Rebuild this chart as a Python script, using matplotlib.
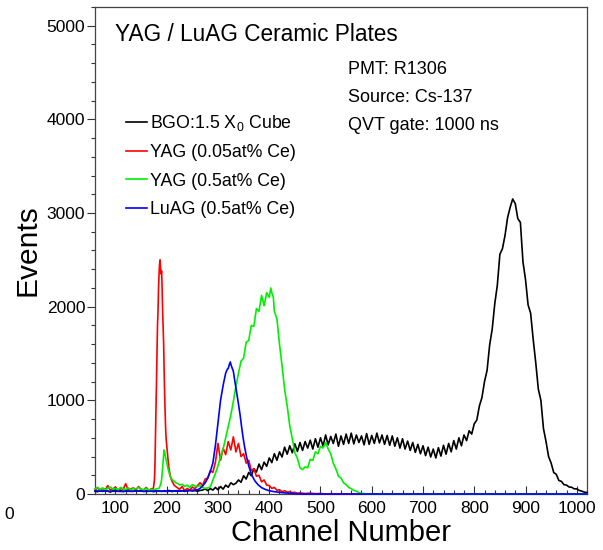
import matplotlib
matplotlib.use('Agg')
import matplotlib.pyplot as plt
from matplotlib.ticker import MultipleLocator
import numpy as np

plt.rcParams['font.family'] = ['Liberation Sans', 'DejaVu Sans']
plt.rcParams['mathtext.fontset'] = 'custom'
plt.rcParams['mathtext.rm'] = 'Liberation Sans'
plt.rcParams['mathtext.it'] = 'Liberation Sans:italic'

# BGO spectrum, 5-channel bins
bgo_ch = np.arange(60, 1025, 5)
bgo_counts = [
    30, 25, 35, 28, 40, 30, 22, 35, 45, 30,
    38, 25, 33, 42, 30, 28, 36, 30, 40, 27,
    33, 38, 30, 25, 35, 30, 28, 34, 30, 38,
    26, 32, 36, 30, 35, 28, 33, 38, 32, 36,
    30, 38, 42, 55, 36, 58, 42, 70, 45, 80,
    52, 95, 72, 120, 100, 115, 150, 125, 195, 160,
    230, 195, 270, 235, 320, 260, 340, 295, 385, 335,
    430, 360, 450, 395, 500, 425, 515, 440, 535, 455,
    550, 465, 560, 490, 575, 480, 590, 500, 600, 510,
    630, 525, 615, 540, 640, 510, 620, 530, 640, 540,
    650, 535, 630, 550, 620, 525, 645, 530, 625, 540,
    650, 545, 630, 530, 625, 520, 620, 510, 600, 490,
    590, 480, 565, 465, 550, 445, 530, 430, 515, 410,
    500, 395, 480, 385, 495, 405, 520, 425, 540, 450,
    570, 480, 600, 515, 630, 570, 675, 640, 750, 790,
    940, 1030, 1200, 1320, 1590, 1760, 2030, 2230, 2560, 2620,
    2760, 2950, 3060, 3150, 3100, 2940, 2900, 2480, 2290, 2020,
    1930, 1650, 1400, 1120, 1000, 700, 560, 400, 330, 230,
    210, 145, 135, 100, 95, 75, 72, 55, 55, 38,
    30, 20, 15,
]

# YAG 0.05at% Ce: (channel, counts)
yag005 = [
    (60, 40), (65, 70), (70, 35), (75, 60), (80, 45), (85, 90), (90, 40),
    (95, 55), (100, 75), (105, 35), (110, 60), (115, 50), (120, 110),
    (125, 40), (130, 55), (135, 65), (140, 40), (145, 80), (150, 50),
    (155, 45), (160, 70), (165, 40), (170, 55), (174, 60), (176, 150),
    (177, 300), (178, 600), (179, 900), (180, 1180), (181, 1500),
    (182, 1800), (183, 1950), (184, 2200), (185, 2350), (186, 2450),
    (187, 2500), (188, 2420), (189, 2350), (190, 2380), (191, 2200),
    (192, 1950), (193, 1780), (194, 1600), (195, 1300), (196, 1050),
    (197, 850), (198, 680), (199, 580), (200, 520), (202, 400), (204, 290),
    (206, 220), (208, 170), (210, 140), (213, 110), (215, 90), (220, 70),
    (225, 50), (230, 80), (235, 35), (240, 60), (245, 40), (250, 75),
    (255, 55), (260, 90), (265, 120), (270, 90), (275, 160), (280, 170),
    (285, 250), (290, 230), (295, 340), (300, 540), (305, 360), (310, 490),
    (315, 420), (320, 560), (325, 470), (330, 610), (335, 450), (340, 540),
    (345, 400), (350, 430), (355, 330), (360, 360), (365, 250), (370, 270),
    (375, 190), (380, 200), (385, 130), (390, 150), (395, 95), (400, 90),
    (405, 60), (410, 70), (415, 40), (420, 45), (425, 25), (430, 35),
    (435, 20), (440, 25), (445, 15), (450, 18), (455, 8), (460, 12),
    (470, 5), (480, 10), (490, 3), (500, 6), (510, 0), (1020, 0),
]

# YAG 0.5at% Ce
yag05 = [
    (60, 55), (65, 70), (70, 50), (75, 65), (80, 45), (85, 60), (90, 75),
    (95, 50), (100, 60), (105, 45), (110, 70), (115, 55), (120, 50),
    (125, 65), (130, 45), (135, 60), (140, 55), (145, 70), (150, 50),
    (155, 45), (160, 60), (165, 40), (170, 50), (175, 45), (180, 55),
    (185, 60), (188, 100), (190, 150), (192, 280), (194, 420), (195, 470),
    (196, 450), (198, 380), (200, 340), (202, 280), (204, 240), (206, 200),
    (208, 175), (211, 150), (214, 140), (218, 120), (222, 110), (226, 95),
    (230, 105), (235, 80), (240, 95), (245, 70), (250, 100), (255, 85),
    (260, 80), (265, 90), (270, 70), (275, 60), (280, 65), (285, 75),
    (290, 150), (295, 220), (300, 300), (305, 400), (310, 480), (315, 600),
    (320, 720), (325, 840), (330, 990), (335, 1150), (340, 1290),
    (345, 1420), (350, 1450), (355, 1620), (360, 1640), (365, 1800),
    (370, 1790), (375, 1980), (380, 1950), (385, 2120), (390, 2010),
    (395, 2150), (400, 2100), (403, 2200), (405, 2150), (408, 2100),
    (410, 1950), (415, 1870), (420, 1600), (425, 1370), (430, 1120),
    (435, 940), (440, 730), (445, 590), (450, 440), (455, 380), (460, 280),
    (465, 260), (470, 290), (475, 280), (480, 370), (485, 360), (490, 450),
    (495, 430), (500, 510), (505, 490), (510, 550), (515, 480), (520, 430),
    (525, 330), (530, 270), (535, 190), (540, 170), (545, 120), (550, 100),
    (555, 70), (560, 58), (565, 38), (570, 30), (575, 14), (580, 9),
    (585, 4), (590, 0), (1020, 0),
]

# LuAG 0.5at% Ce
luag05 = [
    (60, 35), (70, 30), (80, 32), (90, 28), (100, 30), (110, 27), (120, 30),
    (130, 28), (140, 32), (150, 30), (160, 28), (170, 30), (180, 34),
    (190, 30), (200, 28), (210, 32), (220, 30), (230, 34), (240, 36),
    (250, 40), (260, 45), (265, 60), (270, 85), (275, 120), (280, 170),
    (285, 240), (290, 330), (295, 520), (300, 760), (305, 1000),
    (310, 1160), (315, 1290), (318, 1330), (320, 1340), (322, 1380),
    (324, 1410), (326, 1370), (328, 1340), (330, 1310), (333, 1200),
    (336, 1100), (340, 960), (343, 850), (346, 720), (349, 600), (352, 500),
    (356, 390), (360, 300), (364, 230), (368, 180), (372, 140), (378, 100),
    (385, 68), (392, 50), (400, 35), (410, 25), (420, 18), (430, 12),
    (440, 8), (450, 4), (460, 2), (470, 0), (1020, 0),
]

labels = [r'BGO:1.5 X$_{\mathrm{0}}$ Cube', 'YAG (0.05at% Ce)',
          'YAG (0.5at% Ce)', 'LuAG (0.5at% Ce)']
colors = ['black', '#ff0000', '#00f000', '#0000ff']

fig = plt.figure(figsize=(6.03, 5.5), dpi=100)
ax = fig.add_axes([0.1575, 0.1018, 0.816, 0.8855])

series = [(bgo_ch, bgo_counts)]
for pairs in [yag005, yag05, luag05]:
    ch, counts = zip(*pairs)
    series.append((ch, counts))

handles = []
for (ch, counts), c, lab in zip(series, colors, labels):
    h, = ax.plot(ch, counts, color=c, lw=1.2, label=lab, clip_on=False,
                 zorder=3)
    handles.append(h)

ax.set_xlim(60, 1020)
ax.set_ylim(0, 5200)
ax.xaxis.set_major_locator(MultipleLocator(100))
ax.xaxis.set_minor_locator(MultipleLocator(20))
ax.yaxis.set_major_locator(MultipleLocator(1000))
ax.yaxis.set_minor_locator(MultipleLocator(200))
ax.tick_params(axis='x', which='both', direction='in', top=False,
               colors='#333333', labelcolor='black', labelsize=12.5, pad=5)
ax.tick_params(axis='y', which='both', direction='out', right=False,
               colors='#333333', labelcolor='black', labelsize=12.5, pad=1)
ax.tick_params(which='major', length=6, width=0.8)
ax.tick_params(which='minor', length=3, width=0.8)
for s in ax.spines.values():
    s.set_color('#444444')
    s.set_linewidth(0.9)

ax.set_xlabel('Channel Number', fontsize=21, labelpad=2)
ax.set_ylabel('Events', fontsize=21.5, labelpad=4)

ax.text(0.0407, 0.944, 'YAG / LuAG Ceramic Plates', transform=ax.transAxes,
        fontsize=16.3, va='center', ha='left')
info = ['PMT: R1306', 'Source: Cs-137', 'QVT gate: 1000 ns']
for i, t in enumerate(info):
    ax.text(0.514, 0.872 - i * 0.0575, t, transform=ax.transAxes,
            fontsize=13, va='center', ha='left')

ax.legend(handles=handles, loc='upper left', bbox_to_anchor=(0.063, 0.782),
          frameon=False, fontsize=12.8, handlelength=1.18, handletextpad=0.17,
          borderpad=0, borderaxespad=0, labelspacing=0.63)

fig.text(0.007, 0.064, '0', fontsize=12.5, va='center', ha='left')

plt.savefig('out.png', dpi=100)
